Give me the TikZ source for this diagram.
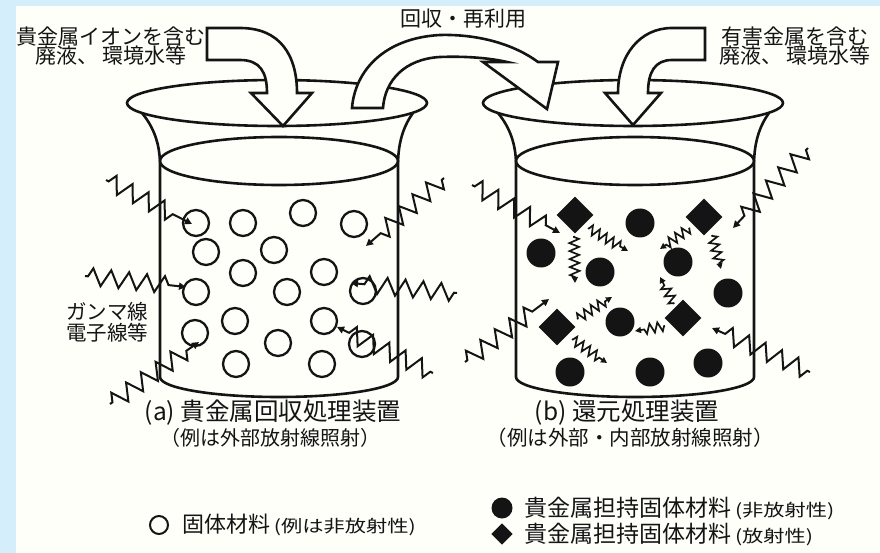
\documentclass[tikz,border=0pt]{standalone}
\usepackage{fontspec}
\newfontfamily\jp{Noto Sans CJK JP}
\usetikzlibrary{decorations.pathmorphing,arrows.meta}
\definecolor{edgeblue}{RGB}{213,238,251}
\definecolor{paper}{RGB}{255,255,250}
\definecolor{ink}{RGB}{20,20,20}
\newcommand{\jpsize}[2]{\jp\fontsize{#1}{#2}\selectfont}
\newcommand{\smallnote}[1]{{\jpsize{17pt}{18pt}\addfontfeature{FakeStretch=1.25}#1}}

\begin{document}
\begin{tikzpicture}[x=1pt,y=-1pt,
  beakerline/.style={draw=ink, line width=2.6pt},
  blockarrow/.style={fill=paper, draw=ink, line width=2.6pt, line join=miter},
  opart/.style={circle, draw=ink, line width=2.3pt, minimum size=26pt, inner sep=0pt},
  fpart/.style={circle, fill=ink, minimum size=29pt, inner sep=0pt},
  dpart/.style={rectangle, fill=ink, minimum size=26pt, inner sep=0pt, rotate=45},
  ray/.style={draw=ink, line width=2pt, line join=miter,
    decoration={zigzag, segment length=18pt, amplitude=8.5pt, pre length=3pt, post length=13pt},
    decorate, -{Triangle[length=7pt,width=7pt]}},
  miniray/.style={draw=ink, line width=1.7pt, line join=miter,
    decoration={zigzag, segment length=8pt, amplitude=4.8pt, pre length=1pt, post length=6pt},
    decorate, -{Triangle[length=6pt,width=6pt]}},
  label/.style={inner sep=0pt, text=ink, align=center}
]
\useasboundingbox (0,0) rectangle (880,553);
% page ground and white panel
\fill[edgeblue] (0,0) rectangle (880,553);
\fill[paper] (16,6) rectangle (880,553);

% two beakers: rim, liquid surface, flared walls and rounded bottom
\foreach \dx in {0,356}{
  \begin{scope}[shift={(\dx,0)}]
    \draw[beakerline] (277,103) ellipse[x radius=150, y radius=23];
    \draw[beakerline] (279,161) ellipse[x radius=119, y radius=24];
    \draw[beakerline] (142,113) .. controls (151,124) and (160,140) .. (160,165) -- (160,377)
      .. controls (160,388) and (213,397) .. (279,397)
      .. controls (345,397) and (398,388) .. (398,377) -- (398,165)
      .. controls (398,140) and (405,124) .. (413,113);
  \end{scope}
}

% (a) solid material particles
\node[opart] (a1) at (196,223) {};
\node[opart] (a2) at (243,223) {};
\node[opart] (a3) at (303,213) {};
\node[opart] (a4) at (354,224) {};
\node[opart] (a5) at (206,252) {};
\node[opart] (a6) at (274,250) {};
\node[opart] (a7) at (243,273) {};
\node[opart] (a8) at (324,272) {};
\node[opart] (a9) at (196,292) {};
\node[opart] (a10) at (287,292) {};
\node[opart] (a11) at (363,291) {};
\node[opart] (a12) at (195,333) {};
\node[opart] (a13) at (235,321) {};
\node[opart] (a14) at (278,343) {};
\node[opart] (a15) at (324,321) {};
\node[opart] (a16) at (362,344) {};
\node[opart] (a17) at (236,364) {};
\node[opart] (a18) at (322,364) {};

% (b) supported particles: non-radioactive discs, radioactive diamonds
\node[fpart] (b1) at (640,223) {};
\node[fpart] (b2) at (541,253) {};
\node[fpart] (b3) at (600,272) {};
\node[fpart] (b4) at (678,262) {};
\node[fpart] (b5) at (728,293) {};
\node[fpart] (b6) at (620,322) {};
\node[fpart] (b7) at (570,372) {};
\node[fpart] (b8) at (650,372) {};
\node[fpart] (b9) at (708,363) {};
\node[dpart] (d1) at (575,215) {};
\node[dpart] (d2) at (704,217) {};
\node[dpart] (d3) at (557,327) {};
\node[dpart] (d4) at (683,318) {};

% external radiation
\coordinate (r1s) at (106,180);  \coordinate (r1e) at (192,224);
\coordinate (r2s) at (85,276);   \coordinate (r2e) at (186,287);
\coordinate (r3s) at (110,404);  \coordinate (r3e) at (199,342);
\coordinate (r4s) at (444,178);  \coordinate (r4e) at (366,246);
\coordinate (r5s) at (457,293);  \coordinate (r5e) at (351,283);
\coordinate (r6s) at (433,373);  \coordinate (r6e) at (337,327);
\coordinate (r7s) at (472,185);  \coordinate (r7e) at (560,233);
\coordinate (r8s) at (808,148);  \coordinate (r8e) at (733,228);
\coordinate (r9s) at (465,362);  \coordinate (r9e) at (549,299);
\coordinate (r10s) at (810,372); \coordinate (r10e) at (712,328);
\foreach \r in {r1,r2,r3,r4,r5,r6,r7,r8,r9,r10}
  \draw[ray] (\r s) -- (\r e);

% internal radiation from the radioactive particles
\coordinate (i1s) at (574,236); \coordinate (i1e) at (575,283);
\coordinate (i2s) at (588,228); \coordinate (i2e) at (628,251);
\coordinate (i3s) at (690,228); \coordinate (i3e) at (660,249);
\coordinate (i4s) at (712,235); \coordinate (i4e) at (721,269);
\coordinate (i5s) at (577,319); \coordinate (i5e) at (612,297);
\coordinate (i6s) at (572,339); \coordinate (i6e) at (607,363);
\coordinate (i7s) at (674,304); \coordinate (i7e) at (660,277);
\coordinate (i8s) at (665,326); \coordinate (i8e) at (635,331);
\foreach \r in {i1,i2,i3,i4,i5,i6,i7,i8}
  \draw[miniray] (\r s) -- (\r e);

% inflow and recycling arrows
\draw[blockarrow] (207,28) -- (240,28) .. controls (280,28) and (297,55) .. (297,93)
  -- (312,93) -- (283,126) -- (251,93) -- (267,93)
  .. controls (267,72) and (260,60) .. (240,60) -- (207,60) -- cycle;
\draw[blockarrow] (705,28) -- (672,28) .. controls (640,28) and (618,55) .. (618,93)
  -- (605,93) -- (633,125) -- (661,93) -- (648,93)
  .. controls (648,72) and (655,60) .. (672,60) -- (705,60) -- cycle;
\draw[blockarrow] (352,108) .. controls (355,70) and (385,38) .. (440,35)
  .. controls (480,34) and (515,45) .. (538,62)
  -- (558,62) -- (547,109) -- (483,62) -- (507,62)
  .. controls (490,58) and (465,56) .. (440,57)
  .. controls (405,59) and (385,80) .. (383,108) -- cycle;

% texts
\node[label, font=\jpsize{21pt}{19.5pt}] (inL) at (111,46) {貴金属イオンを含む\\廃液、 環境水等};
\node[label, font=\jpsize{21pt}{19.5pt}] (inR) at (795,46) {有害金属を含む\\廃液、 環境水等};
\node[label, font=\jpsize{21pt}{21pt}] (reuse) at (463,19) {回収・再利用};
\node[label, font=\jpsize{20.5pt}{21pt}] (rays) at (107,322) {ガンマ線\\電子線等};

\node[label, font=\jpsize{24.5pt}{26pt}] (capA) at (273,413) {(a) 貴金属回収処理装置};
\node[label, font=\jpsize{20pt}{22pt}] (capA2) at (270,438) {（例は外部放射線照射）};
\node[label, font=\jpsize{24.5pt}{26pt}] (capB) at (627,413) {(b) 還元処理装置};
\node[label, font=\jpsize{20.5pt}{22pt}] (capB2) at (630,438) {（例は外部・内部放射線照射）};

% legend
\node[circle, draw=ink, line width=2pt, minimum size=18pt, inner sep=0pt] (kO) at (159,525) {};
\node[label, anchor=west, font=\jpsize{22pt}{24pt}] (kOt) at (182,525)
  {固体材料\,\smallnote{(例は非放射性)}};
\node[circle, fill=ink, minimum size=21pt, inner sep=0pt] (kF) at (502,508) {};
\node[label, anchor=west, font=\jpsize{23pt}{24pt}] (kFt) at (524,508)
  {貴金属担持固体材料\,\smallnote{(非放射性)}};
\node[rectangle, fill=ink, minimum size=15pt, inner sep=0pt, rotate=45] (kD) at (502,534) {};
\node[label, anchor=west, font=\jpsize{23pt}{24pt}] (kDt) at (524,534)
  {貴金属担持固体材料\,\smallnote{(放射性)}};
\end{tikzpicture}
\end{document}
